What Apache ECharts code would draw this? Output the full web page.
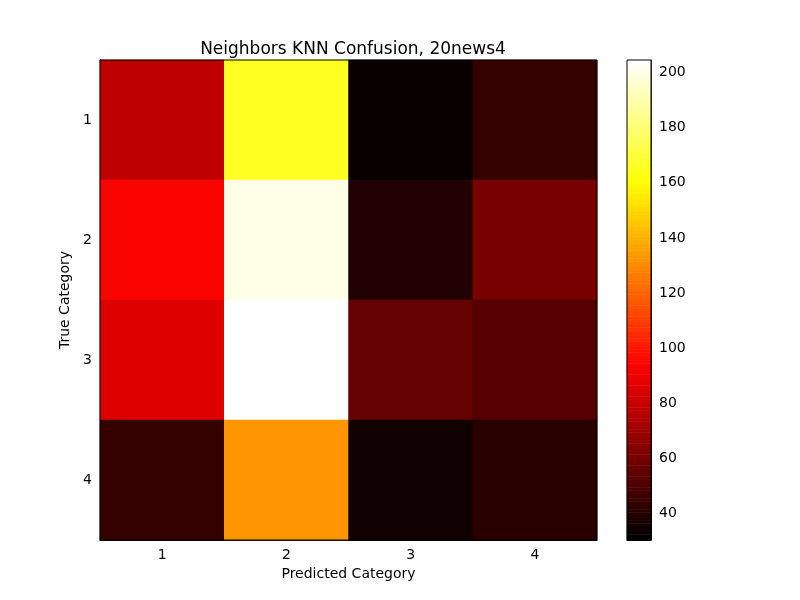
<!DOCTYPE html>
<html><head><meta charset="utf-8">
<script src="https://cdn.jsdelivr.net/npm/echarts@6/dist/echarts.min.js"></script>
<style>html,body{margin:0;background:#fff}#c{width:800px;height:600px}</style>
</head><body><div id="c"></div>
<script>
var predicted = ['1', '2', '3', '4'];
var trueCats = ['1', '2', '3', '4'];
// rows = true category, columns = predicted category
var counts = [
    [78, 166, 33, 44],
    [94, 200, 39, 61],
    [86, 204, 56, 52],
    [44, 133, 35, 41]
];
var vMin = 31, vMax = 204;

// matplotlib "hot" colormap samples
function hot(t) {
    var r = Math.min(1, t / 0.365), g = Math.max(0, Math.min(1, (t - 0.365) / 0.381)), b = Math.max(0, Math.min(1, (t - 0.746) / 0.254));
    return 'rgb(' + Math.round(r * 255) + ',' + Math.round(g * 255) + ',' + Math.round(b * 255) + ')';
}
var hotColors = [];
for (var i = 0; i <= 40; i++) hotColors.push(hot(i / 40));

var cells = [];
counts.forEach(function (row, r) {
    row.forEach(function (v, c) { cells.push([c, r, v]); });
});
var levels = [], barCells = [];
for (var v = vMin; v <= vMax; v++) { levels.push(String(v)); barCells.push([0, v - vMin, v]); }

var font = 'DejaVu Sans';
var option = {
    animation: false,
    textStyle: { fontFamily: font },
    title: { text: 'Neighbors KNN Confusion, 20news4', left: 348, top: 36, textAlign: 'center',
        textStyle: { fontFamily: font, fontSize: 17, fontWeight: 'normal', color: '#000' } },
    grid: [
        { left: 100, top: 60, width: 497, height: 480 },
        { left: 627, top: 60, width: 24, height: 480 }
    ],
    xAxis: [
        { type: 'category', data: predicted, gridIndex: 0, name: 'Predicted Category', nameLocation: 'middle', nameGap: 24,
          nameTextStyle: { fontSize: 14, color: '#000' },
          axisLine: { lineStyle: { color: '#000' } }, axisTick: { inside: true, alignWithLabel: true, length: 5, lineStyle: { color: '#000' } },
          axisLabel: { fontSize: 14, color: '#000' } },
        { type: 'category', data: ['c'], gridIndex: 1, axisLabel: { show: false }, axisTick: { show: false }, axisLine: { lineStyle: { color: '#000' } } }
    ],
    yAxis: [
        { type: 'category', data: trueCats, inverse: true, gridIndex: 0, name: 'True Category', nameLocation: 'middle', nameGap: 26,
          nameTextStyle: { fontSize: 14, color: '#000' },
          axisLine: { lineStyle: { color: '#000' } }, axisTick: { inside: true, alignWithLabel: true, length: 5, lineStyle: { color: '#000' } },
          axisLabel: { fontSize: 14, color: '#000' } },
        { type: 'category', data: levels, gridIndex: 1, position: 'right',
          axisLine: { lineStyle: { color: '#000' } },
          axisTick: { inside: true, alignWithLabel: true, length: 5, lineStyle: { color: '#000' }, interval: function (i, l) { return +l % 20 === 0; } },
          axisLabel: { fontSize: 14, color: '#000', interval: function (i, l) { return +l % 20 === 0; } } }
    ],
    visualMap: [
        { show: false, min: vMin, max: vMax, seriesIndex: 0, inRange: { color: hotColors } },
        { show: false, min: vMin, max: vMax, seriesIndex: 1, inRange: { color: hotColors } }
    ],
    series: [
        { type: 'heatmap', xAxisIndex: 0, yAxisIndex: 0, data: cells },
        { type: 'heatmap', xAxisIndex: 1, yAxisIndex: 1, data: barCells }
    ],
    graphic: [
        { type: 'rect', shape: { x: 100, y: 60, width: 497, height: 480 }, style: { fill: 'none', stroke: '#000', lineWidth: 1 }, z: 100 },
        { type: 'rect', shape: { x: 627, y: 60, width: 24, height: 480 }, style: { fill: 'none', stroke: '#000', lineWidth: 1 }, z: 100 }
    ]
};
var chart = echarts.init(document.getElementById('c'));
chart.setOption(option);
</script></body></html>
